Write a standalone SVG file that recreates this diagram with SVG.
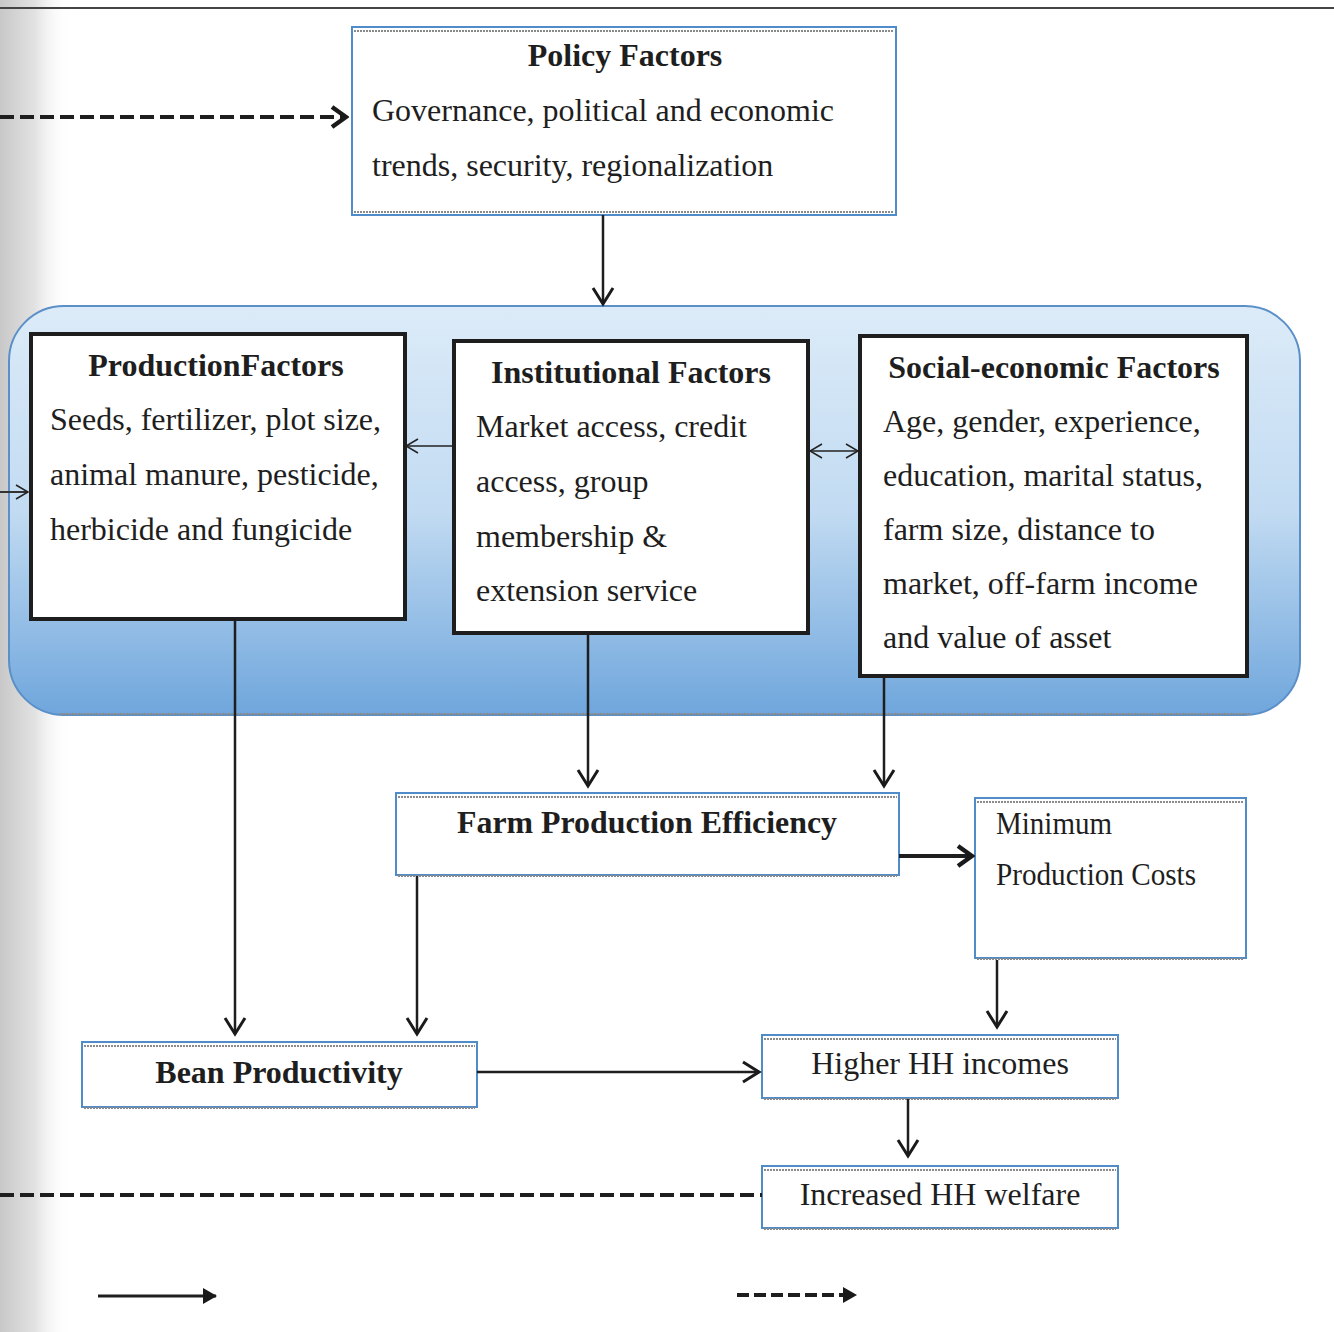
<svg xmlns="http://www.w3.org/2000/svg" width="1334" height="1332" viewBox="0 0 1334 1332">
<defs>
<linearGradient id="shade" x1="0" y1="0" x2="1" y2="0">
<stop offset="0" stop-color="#c8c8c8"/>
<stop offset="0.5" stop-color="#e2e2e2"/>
<stop offset="1" stop-color="#ffffff" stop-opacity="0"/>
</linearGradient>
<linearGradient id="panel" x1="0" y1="0" x2="0" y2="1">
<stop offset="0" stop-color="#dcebf8"/>
<stop offset="0.5" stop-color="#c2dbf2"/>
<stop offset="1" stop-color="#6fa6dc"/>
</linearGradient>
<marker id="chev" viewBox="0 0 24 24" refX="20" refY="12" markerWidth="24" markerHeight="24" markerUnits="userSpaceOnUse" orient="auto">
<path d="M4,2 L20,12 L4,22" fill="none" stroke="#1a1a1a" stroke-width="3"/>
</marker>
<marker id="thin" viewBox="0 0 16 16" refX="15" refY="8" markerWidth="16" markerHeight="16" markerUnits="userSpaceOnUse" orient="auto-start-reverse">
<path d="M3,1 L15,8 L3,15" fill="none" stroke="#222" stroke-width="1.5"/>
</marker>
<marker id="fill" viewBox="0 0 14 16" refX="13" refY="8" markerWidth="14" markerHeight="16" markerUnits="userSpaceOnUse" orient="auto">
<path d="M0,0 L14,8 L0,16 Z" fill="#1a1a1a"/>
</marker>
<marker id="bigchev" viewBox="0 0 20 24" refX="17" refY="12" markerWidth="20" markerHeight="24" markerUnits="userSpaceOnUse" orient="auto">
<path d="M3,2 L17,12 L3,22" fill="none" stroke="#1a1a1a" stroke-width="4.5"/>
</marker>
</defs>
<style>
.t{font-family:"Liberation Serif","Times New Roman",serif;fill:#1e1e1e;font-size:32px}
.b{font-weight:bold}
.blue{fill:#fff;stroke:#4f8cc9;stroke-width:2}
.dot{stroke:#8a8a8a;stroke-width:2;stroke-dasharray:2 1;fill:none}
.blk{fill:#fff;stroke:#1e1e1e;stroke-width:4}
.c{fill:none;stroke:#1e1e1e;stroke-width:2.5}
.d{fill:none;stroke:#1e1e1e;stroke-width:4;stroke-dasharray:14 6}
</style>
<rect x="0" y="0" width="1334" height="1332" fill="#ffffff"/>
<rect x="0" y="0" width="70" height="1332" fill="url(#shade)"/>
<line x1="0" y1="8" x2="1334" y2="8" stroke="#444" stroke-width="2"/>

<g id="panel-group">
<rect x="9" y="306" width="1291" height="409" rx="55" ry="55" fill="url(#panel)" stroke="#5b8fc7" stroke-width="2"/>
<line x1="60" y1="714" x2="1250" y2="714" class="dot"/>
</g>

<g id="policy">
<rect x="352" y="27" width="544" height="188" class="blue"/>
<line x1="354" y1="31" x2="894" y2="31" class="dot"/>
<line x1="354" y1="212" x2="894" y2="212" class="dot"/>
<text x="625" y="66" text-anchor="middle" class="t b">Policy Factors</text>
<text x="372" y="121" class="t">Governance, political and economic</text>
<text x="372" y="176" class="t">trends, security, regionalization</text>
</g>

<g id="production">
<rect x="31" y="334" width="374" height="285" class="blk"/>
<text x="216" y="376" text-anchor="middle" class="t b">ProductionFactors</text>
<text x="50" y="430" class="t">Seeds, fertilizer, plot size,</text>
<text x="50" y="485" class="t">animal manure, pesticide,</text>
<text x="50" y="540" class="t">herbicide and fungicide</text>
</g>

<g id="institutional">
<rect x="454" y="341" width="354" height="292" class="blk"/>
<text x="631" y="383" text-anchor="middle" class="t b">Institutional Factors</text>
<text x="476" y="437" class="t">Market access, credit</text>
<text x="476" y="492" class="t">access, group</text>
<text x="476" y="547" class="t">membership &amp;</text>
<text x="476" y="601" class="t">extension service</text>
</g>

<g id="social">
<rect x="860" y="336" width="387" height="340" class="blk"/>
<text x="1054" y="378" text-anchor="middle" class="t b">Social-economic Factors</text>
<text x="883" y="432" class="t">Age, gender, experience,</text>
<text x="883" y="486" class="t">education, marital status,</text>
<text x="883" y="540" class="t">farm size, distance to</text>
<text x="883" y="594" class="t">market, off-farm income</text>
<text x="883" y="648" class="t">and value of asset</text>
</g>

<g id="efficiency">
<rect x="396" y="793" width="503" height="82" class="blue"/>
<line x1="398" y1="797" x2="897" y2="797" class="dot"/>
<line x1="398" y1="876" x2="897" y2="876" class="dot"/>
<text x="647" y="833" text-anchor="middle" class="t b" font-size="30" textLength="380" lengthAdjust="spacingAndGlyphs">Farm Production Efficiency</text>
</g>

<g id="mincost">
<rect x="975" y="798" width="271" height="160" class="blue"/>
<line x1="977" y1="802" x2="1244" y2="802" class="dot"/>
<line x1="977" y1="959" x2="1244" y2="959" class="dot"/>
<text x="996" y="834" class="t" font-size="28" textLength="116" lengthAdjust="spacingAndGlyphs">Minimum</text>
<text x="996" y="885" class="t" font-size="28" textLength="200" lengthAdjust="spacingAndGlyphs">Production Costs</text>
</g>

<g id="bean">
<rect x="82" y="1042" width="395" height="65" class="blue"/>
<line x1="84" y1="1046" x2="475" y2="1046" class="dot"/>
<line x1="84" y1="1108" x2="475" y2="1108" class="dot"/>
<text x="279" y="1083" text-anchor="middle" class="t b">Bean Productivity</text>
</g>

<g id="income">
<rect x="762" y="1035" width="356" height="63" class="blue"/>
<line x1="764" y1="1039" x2="1116" y2="1039" class="dot"/>
<line x1="764" y1="1099" x2="1116" y2="1099" class="dot"/>
<text x="940" y="1074" text-anchor="middle" class="t">Higher HH incomes</text>
</g>

<g id="welfare">
<rect x="762" y="1166" width="356" height="62" class="blue"/>
<line x1="764" y1="1170" x2="1116" y2="1170" class="dot"/>
<line x1="764" y1="1229" x2="1116" y2="1229" class="dot"/>
<text x="940" y="1205" text-anchor="middle" class="t">Increased HH welfare</text>
</g>

<g id="connectors">
<line x1="0" y1="117" x2="346" y2="117" class="d" marker-end="url(#bigchev)"/>
<line x1="603" y1="215" x2="603" y2="304" class="c" marker-end="url(#chev)"/>
<line x1="453" y1="446" x2="406" y2="446" stroke="#222" stroke-width="1.5" marker-end="url(#thin)"/>
<line x1="810" y1="451" x2="858" y2="451" stroke="#222" stroke-width="1.5" marker-start="url(#thin)" marker-end="url(#thin)"/>
<line x1="0" y1="492" x2="28" y2="492" stroke="#333" stroke-width="2" marker-end="url(#thin)"/>
<line x1="235" y1="621" x2="235" y2="1034" class="c" marker-end="url(#chev)"/>
<line x1="588" y1="635" x2="588" y2="786" class="c" marker-end="url(#chev)"/>
<line x1="884" y1="678" x2="884" y2="786" class="c" marker-end="url(#chev)"/>
<line x1="899" y1="856" x2="972" y2="856" stroke="#1e1e1e" stroke-width="4" marker-end="url(#bigchev)"/>
<line x1="417" y1="876" x2="417" y2="1034" class="c" marker-end="url(#chev)"/>
<line x1="997" y1="960" x2="997" y2="1027" class="c" marker-end="url(#chev)"/>
<line x1="477" y1="1072" x2="759" y2="1072" class="c" marker-end="url(#chev)"/>
<line x1="908" y1="1099" x2="908" y2="1156" class="c" marker-end="url(#chev)"/>
<line x1="0" y1="1195" x2="762" y2="1195" class="d"/>
<line x1="98" y1="1296" x2="216" y2="1296" stroke="#1e1e1e" stroke-width="3" marker-end="url(#fill)"/>
<line x1="737" y1="1295" x2="856" y2="1295" stroke="#1e1e1e" stroke-width="4" stroke-dasharray="12 5" marker-end="url(#fill)"/>
</g>
</svg>
